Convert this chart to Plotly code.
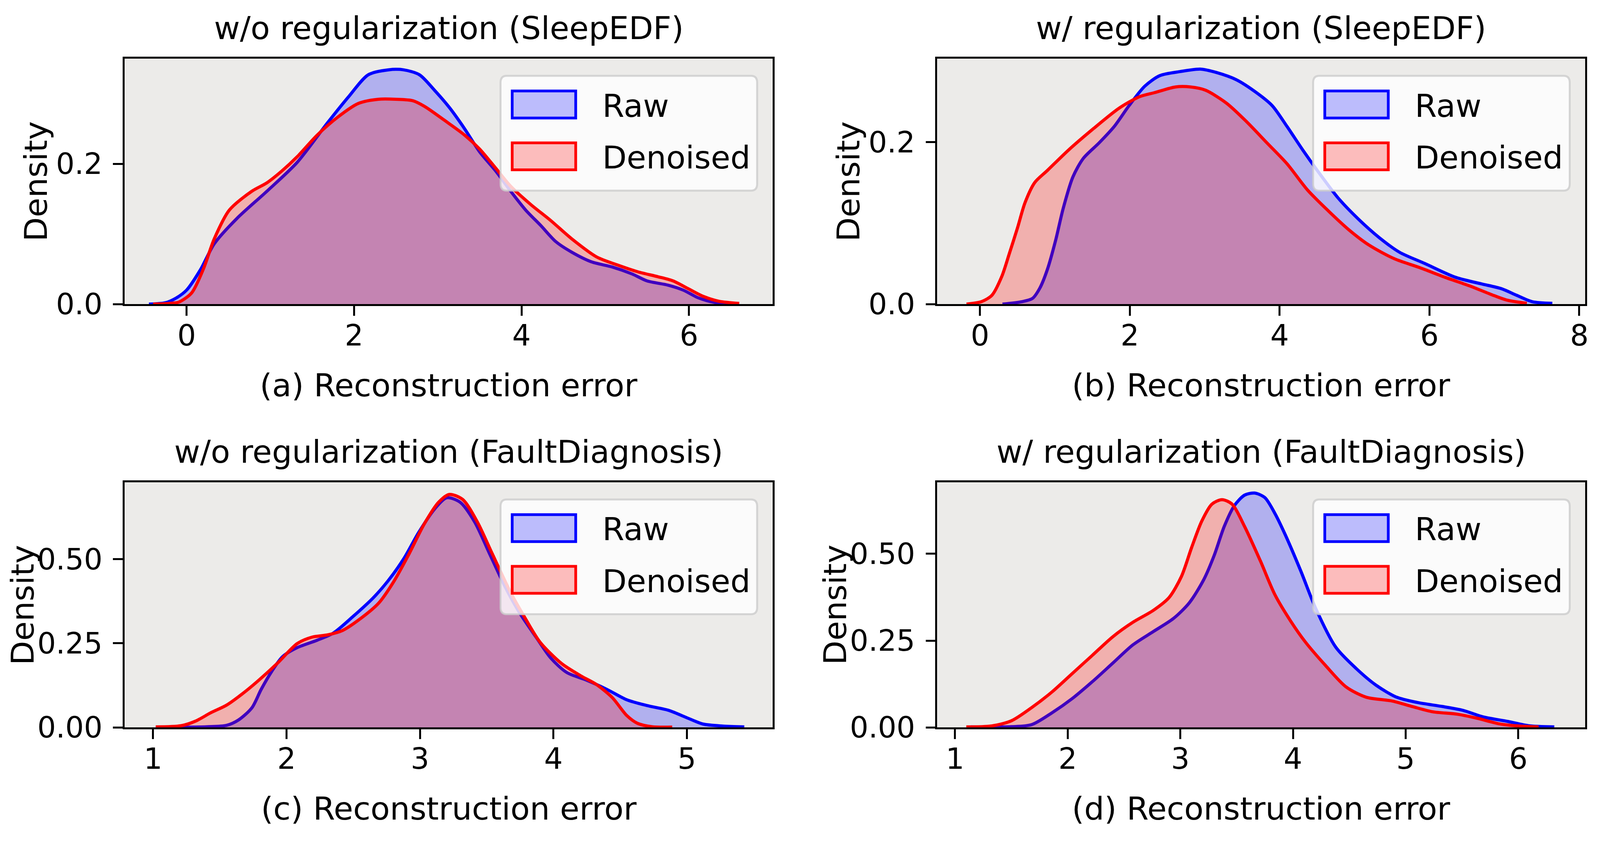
import plotly.graph_objects as go

# ---- data (KDE curves) ----
# (a) SleepEDF, w/o regularization
a_raw_x = [-0.45, -0.25, -0.12, 0.0, 0.17, 0.33, 0.6, 0.96, 1.32, 1.68, 1.93, 2.17, 2.41, 2.59, 2.78,
           2.96, 3.14, 3.32, 3.5, 3.69, 3.87, 4.05, 4.23, 4.41, 4.6, 4.84, 5.08, 5.32, 5.5, 5.75, 5.93,
           6.11, 6.3, 6.55]
a_raw_y = [0.0, 0.002, 0.009, 0.02, 0.05, 0.086, 0.122, 0.161, 0.202, 0.258, 0.295, 0.327, 0.334, 0.334,
           0.327, 0.305, 0.28, 0.25, 0.217, 0.19, 0.161, 0.134, 0.112, 0.089, 0.074, 0.06, 0.053, 0.043,
           0.033, 0.027, 0.02, 0.009, 0.0025, 0.0005]
a_den_x = [-0.4, -0.2, -0.09, 0.06, 0.2, 0.33, 0.51, 0.78, 0.96, 1.14, 1.32, 1.56, 1.81, 2.05, 2.29, 2.5,
           2.7, 2.84, 3.08, 3.32, 3.5, 3.69, 3.87, 4.11, 4.35, 4.6, 4.9, 5.14, 5.39, 5.63, 5.81, 5.99,
           6.17, 6.36, 6.6]
a_den_y = [0.0, 0.001, 0.003, 0.016, 0.05, 0.093, 0.134, 0.161, 0.173, 0.19, 0.21, 0.241, 0.267, 0.286,
           0.292, 0.292, 0.29, 0.282, 0.262, 0.241, 0.221, 0.194, 0.168, 0.142, 0.119, 0.093, 0.067,
           0.056, 0.046, 0.039, 0.033, 0.022, 0.011, 0.004, 0.001]

# (b) SleepEDF, w/ regularization
b_raw_x = [0.3, 0.56, 0.7, 0.8, 0.9, 1.01, 1.11, 1.24, 1.38, 1.59, 1.79, 1.99, 2.2, 2.4, 2.67, 2.95, 3.15,
           3.42, 3.69, 3.9, 4.1, 4.31, 4.51, 4.78, 5.05, 5.33, 5.6, 5.94, 6.35, 6.69, 6.96, 7.16, 7.37, 7.64]
b_raw_y = [0.0, 0.003, 0.007, 0.02, 0.043, 0.079, 0.118, 0.157, 0.18, 0.199, 0.219, 0.245, 0.269, 0.282,
           0.287, 0.29, 0.286, 0.277, 0.261, 0.245, 0.219, 0.19, 0.164, 0.131, 0.105, 0.082, 0.064, 0.05,
           0.033, 0.025, 0.019, 0.011, 0.003, 0.001]
b_den_x = [-0.18, 0.02, 0.16, 0.29, 0.39, 0.5, 0.6, 0.73, 0.9, 1.18, 1.52, 1.86, 2.13, 2.33, 2.61, 2.81,
           3.01, 3.29, 3.56, 3.83, 4.1, 4.37, 4.65, 4.92, 5.19, 5.53, 5.87, 6.21, 6.55, 6.82, 7.03, 7.3]
b_den_y = [0.0, 0.003, 0.011, 0.034, 0.062, 0.094, 0.125, 0.15, 0.165, 0.19, 0.217, 0.242, 0.256, 0.261,
           0.268, 0.268, 0.264, 0.248, 0.225, 0.199, 0.173, 0.141, 0.115, 0.092, 0.073, 0.056, 0.045,
           0.033, 0.022, 0.012, 0.005, 0.001]

# (c) FaultDiagnosis, w/o regularization
c_raw_x = [1.02, 1.4, 1.55, 1.64, 1.74, 1.81, 1.89, 1.97, 2.08, 2.23, 2.35, 2.5, 2.65, 2.76, 2.88, 2.99,
           3.11, 3.2, 3.3, 3.41, 3.52, 3.64, 3.75, 3.87, 3.98, 4.1, 4.25, 4.4, 4.55, 4.7, 4.86, 5.01, 5.12,
           5.27, 5.43]
c_raw_y = [0.0, 0.002, 0.006, 0.022, 0.058, 0.113, 0.167, 0.21, 0.237, 0.259, 0.28, 0.33, 0.385, 0.435,
           0.502, 0.579, 0.649, 0.682, 0.669, 0.61, 0.517, 0.416, 0.338, 0.268, 0.206, 0.163, 0.14, 0.113,
           0.082, 0.065, 0.051, 0.027, 0.01, 0.004, 0.0015]
c_den_x = [1.02, 1.21, 1.32, 1.43, 1.55, 1.66, 1.78, 1.93, 2.08, 2.19, 2.31, 2.42, 2.54, 2.69, 2.8, 2.92,
           3.03, 3.14, 3.22, 3.32, 3.43, 3.54, 3.68, 3.79, 3.9, 4.06, 4.21, 4.32, 4.44, 4.55, 4.63, 4.74, 4.89]
c_den_y = [0.0015, 0.005, 0.019, 0.043, 0.066, 0.097, 0.136, 0.19, 0.249, 0.268, 0.275, 0.288, 0.319,
           0.369, 0.431, 0.517, 0.603, 0.669, 0.692, 0.677, 0.61, 0.517, 0.4, 0.323, 0.253, 0.19, 0.152,
           0.128, 0.089, 0.035, 0.012, 0.002, 0.001]

# (d) FaultDiagnosis, w/ regularization
d_raw_x = [1.14, 1.5, 1.68, 1.86, 2.04, 2.22, 2.4, 2.58, 2.76, 2.94, 3.08, 3.21, 3.3, 3.39, 3.48, 3.57,
           3.66, 3.75, 3.84, 3.93, 4.07, 4.2, 4.38, 4.56, 4.74, 4.92, 5.1, 5.33, 5.51, 5.69, 5.91, 6.09, 6.32]
d_raw_y = [0.0015, 0.002, 0.008, 0.042, 0.083, 0.132, 0.185, 0.238, 0.276, 0.314, 0.359, 0.427, 0.495,
           0.579, 0.639, 0.669, 0.675, 0.662, 0.616, 0.556, 0.45, 0.344, 0.231, 0.17, 0.121, 0.087, 0.072,
           0.06, 0.049, 0.03, 0.017, 0.005, 0.0015]
d_den_x = [1.1, 1.32, 1.5, 1.68, 1.86, 2.04, 2.22, 2.4, 2.58, 2.76, 2.9, 3.01, 3.1, 3.19, 3.28, 3.37,
           3.46, 3.57, 3.71, 3.84, 3.98, 4.11, 4.29, 4.47, 4.65, 4.88, 5.06, 5.24, 5.46, 5.64, 5.82, 6.0, 6.18]
d_den_y = [0.0015, 0.004, 0.019, 0.057, 0.102, 0.155, 0.208, 0.261, 0.303, 0.337, 0.374, 0.435, 0.518,
           0.594, 0.643, 0.656, 0.643, 0.579, 0.48, 0.382, 0.306, 0.246, 0.178, 0.117, 0.087, 0.076, 0.06,
           0.045, 0.038, 0.026, 0.011, 0.004, 0.0015]

titles = ["w/o regularization (SleepEDF)", "w/ regularization (SleepEDF)",
          "w/o regularization (FaultDiagnosis)", "w/ regularization (FaultDiagnosis)"]
xlabels = ["(a) Reconstruction error", "(b) Reconstruction error",
           "(c) Reconstruction error", "(d) Reconstruction error"]
x_ranges = [[-0.74, 7.0], [-0.571, 8.08], [0.787, 5.643], [0.842, 6.595]]
y_ranges = [[0, 0.35], [0, 0.303], [0, 0.728], [0, 0.706]]
x_ticks = [[0, 2, 4, 6], [0, 2, 4, 6, 8], [1, 2, 3, 4, 5], [1, 2, 3, 4, 5, 6]]
y_ticks = [[0.0, 0.2], [0.0, 0.2], [0.0, 0.25, 0.5], [0.0, 0.25, 0.5]]
y_fmt = ["{:.1f}", "{:.1f}", "{:.2f}", "{:.2f}"]
series_names = ["Raw", "Denoised"]

# ---- layout: positions measured on the 4698x2162 reference, used as fractions ----
W, H = 4698, 2162
FONT = "DejaVu Sans"
LABEL_SIZE = 81
TICK_SIZE = 75
cols = [(359, 2273), (2759, 4673)]
rows = [(146, 792), (1261, 1906)]
ylabel_off = [262, 302]

def px_x(v):
    return v / W

def px_y(v):
    return 1 - v / H

curves = [(a_raw_x, a_raw_y, a_den_x, a_den_y),
          (b_raw_x, b_raw_y, b_den_x, b_den_y),
          (c_raw_x, c_raw_y, c_den_x, c_den_y),
          (d_raw_x, d_raw_y, d_den_x, d_den_y)]

fig = go.Figure()
layout = dict(autosize=True, margin=dict(l=0, r=0, t=0, b=0, pad=0),
              paper_bgcolor="white", plot_bgcolor="#ECEBE9", showlegend=False,
              font=dict(family=FONT, color="black"))
annotations = []
shapes = []

for i in range(4):
    r, c = divmod(i, 2)
    left, right = cols[c]
    top, bottom = rows[r]
    sfx = "" if i == 0 else str(i + 1)
    rx, ry, dx, dy = curves[i]

    for xs, ys, col, fillc, name in [(rx, ry, "blue", "rgba(0,0,255,0.25)", series_names[0]),
                                     (dx, dy, "red", "rgba(255,0,0,0.25)", series_names[1])]:
        fig.add_trace(go.Scatter(x=xs, y=ys, name=name, mode="lines", xaxis="x" + sfx, yaxis="y" + sfx,
                                 line=dict(color=col, width=8, shape="spline", smoothing=0.8),
                                 fill="tozeroy", fillcolor=fillc, hoverinfo="skip"))

    common = dict(showline=True, linecolor="black", linewidth=4.5, mirror=True, ticks="outside",
                  ticklen=25, tickwidth=4.5, tickcolor="black", showgrid=False, zeroline=False,
                  tickfont=dict(family=FONT, size=TICK_SIZE, color="black"), fixedrange=True)
    layout["xaxis" + sfx] = dict(common, domain=[px_x(left), px_x(right)], anchor="y" + sfx,
                                 range=x_ranges[i], tickvals=x_ticks[i],
                                 ticktext=[str(t) for t in x_ticks[i]], ticklabelstandoff=-14)
    layout["yaxis" + sfx] = dict(common, domain=[px_y(bottom), px_y(top)], anchor="x" + sfx,
                                 range=y_ranges[i], tickvals=y_ticks[i],
                                 ticktext=[y_fmt[i].format(t) for t in y_ticks[i]], ticklabelstandoff=12)

    cx = (left + right) / 2
    annotations.append(dict(text=titles[i], x=px_x(cx), y=px_y(top - 80), xref="paper", yref="paper",
                            xanchor="center", yanchor="middle", showarrow=False,
                            font=dict(family=FONT, size=LABEL_SIZE)))
    annotations.append(dict(text=xlabels[i], x=px_x(cx), y=px_y(bottom + 214), xref="paper", yref="paper",
                            xanchor="center", yanchor="middle", showarrow=False,
                            font=dict(family=FONT, size=LABEL_SIZE)))
    annotations.append(dict(text="Density", x=px_x(left - ylabel_off[r]), y=px_y((top + bottom) / 2),
                            xref="paper", yref="paper", xanchor="center", yanchor="middle",
                            textangle=-90, showarrow=False, font=dict(family=FONT, size=LABEL_SIZE)))

    # legend box (upper right, like matplotlib's)
    xd, yd = "x" + sfx + " domain", "y" + sfx + " domain"
    x0, x1, y0, y1 = 0.580, 0.976, 0.462, 0.930
    kx, ky = 18 / (right - left), 18 / (bottom - top)
    path = (f"M {x0 + kx},{y0} L {x1 - kx},{y0} Q {x1},{y0} {x1},{y0 + ky} L {x1},{y1 - ky} "
            f"Q {x1},{y1} {x1 - kx},{y1} L {x0 + kx},{y1} Q {x0},{y1} {x0},{y1 - ky} "
            f"L {x0},{y0 + ky} Q {x0},{y0} {x0 + kx},{y0} Z")
    shapes.append(dict(type="path", path=path, xref=xd, yref=yd, fillcolor="rgba(255,255,255,0.8)",
                       line=dict(color="rgba(204,204,204,0.8)", width=5), layer="above"))
    for (py0, py1), col, fillc, name in [((0.758, 0.868), "blue", "rgba(0,0,255,0.25)", series_names[0]),
                                         ((0.547, 0.657), "red", "rgba(255,0,0,0.25)", series_names[1])]:
        shapes.append(dict(type="rect", xref=xd, yref=yd, x0=0.598, x1=0.696, y0=py0, y1=py1,
                           fillcolor=fillc, line=dict(color=col, width=7), layer="above"))
        annotations.append(dict(text=name, x=0.736, y=(py0 + py1) / 2 - 0.005, xref=xd, yref=yd,
                                xanchor="left", yanchor="middle", showarrow=False,
                                font=dict(family=FONT, size=LABEL_SIZE)))

layout["annotations"] = annotations
layout["shapes"] = shapes
fig.update_layout(**layout)
# the figure fills the browser window (minus the page's 8px body margin)
fig.write_html("out.html", default_width="calc(100vw - 16px)", default_height="calc(100vh - 16px)")
